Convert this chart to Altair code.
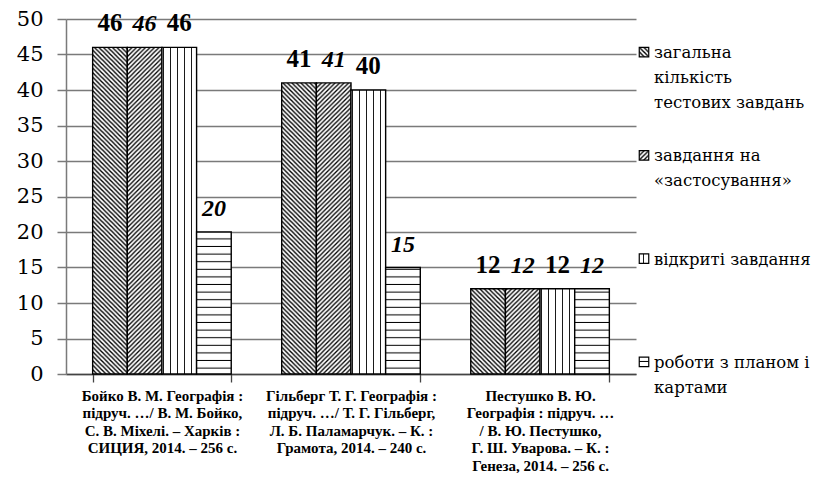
import altair as alt
import pandas as pd
import jinja2

# ---------------- data ----------------
books = [
    "Бойко В. М. Географія :\nпідруч. …/ В. М. Бойко,\nС. В. Міхелі. – Харків :\nСИЦИЯ, 2014. – 256 с.",
    "Гільберг Т. Г. Географія :\nпідруч. …/ Т. Г. Гільберг,\nЛ. Б. Паламарчук. – К. :\nГрамота, 2014. – 240 с.",
    "Пестушко В. Ю.\nГеографія : підруч. …\n/ В. Ю. Пестушко,\nГ. Ш. Уварова. – К. :\nГенеза, 2014. – 256 с.",
]
series = [
    "загальна кількість тестових завдань",
    "завдання на «застосування»",
    "відкриті завдання",
    "роботи з планом і картами",
]
legend_labels = [
    "загальна\nкількість\nтестових завдань",
    "завдання на\n«застосування»",
    "відкриті завдання",
    "роботи з планом і\nкартами",
]
values = {
    series[0]: [46, 41, 12],
    series[1]: [46, 41, 12],
    series[2]: [46, 40, 12],
    series[3]: [20, 15, 12],
}
italic_series = [series[1], series[3]]
patterns = ["url(#hatchA)", "url(#hatchB)", "url(#vlines)", "url(#hlines)"]

rows = []
for s in series:
    for b, v in zip(books, values[s]):
        rows.append({"book": b, "series": s, "value": v,
                     "italic": s in italic_series})
df = pd.DataFrame(rows)
leg_df = pd.DataFrame({"series": series, "label": legend_labels})

SERIF = "Liberation Serif"
SLAB = "DejaVu Serif"
NOVIEW = alt.ViewBackground(stroke="transparent", strokeWidth=0, strokeOpacity=0)

x_enc = alt.X(
    "book:N", sort=books, title=None,
    scale=alt.Scale(paddingInner=0.267, paddingOuter=0.141),
    axis=alt.Axis(
        labelAngle=0, labelExpr="split(datum.label, '\\n')",
        labelFont=SERIF, labelFontSize=15, labelFontWeight="bold",
        labelColor="black", labelLineHeight=17.5, labelBaseline="top",
        labelPadding=6, labelLimit=0, tickBand="extent", tickSize=8,
        tickColor="#444", domainColor="#444", domainWidth=1.3, tickWidth=1.3,
        grid=False,
    ),
)
xoff = alt.XOffset("series:N", sort=series,
                   scale=alt.Scale(domain=series, paddingInner=0, paddingOuter=0))
y_enc = alt.Y(
    "value:Q", title=None,
    scale=alt.Scale(domain=[0, 50], nice=False),
    axis=alt.Axis(
        values=list(range(0, 51, 5)), labelFont=SLAB, labelFontSize=21,
        labelColor="black", labelPadding=14, tickSize=9, tickColor="#7a7a7a",
        tickWidth=1.5, domainColor="#7a7a7a", domainWidth=1.5,
        gridColor="#7a7a7a", gridWidth=1.5, labelFlush=False,
    ),
)

base = alt.Chart(df)
bars = base.mark_bar(stroke="black", strokeWidth=1.4).encode(
    x=x_enc, xOffset=xoff, y=y_enc,
    fill=alt.Fill("series:N", scale=alt.Scale(domain=series, range=patterns),
                  legend=None),
)
txt_up = base.transform_filter("!datum.italic").mark_text(
    font=SERIF, fontSize=25, fontWeight="bold", baseline="alphabetic",
    dy=-16, color="black",
).encode(x=x_enc, xOffset=xoff, y=y_enc, text="value:Q")
txt_it = base.transform_filter("datum.italic").mark_text(
    font=SERIF, fontSize=24, fontWeight="bold", fontStyle="italic",
    baseline="alphabetic", dy=-16, color="black",
).encode(x=x_enc, xOffset=xoff, y=y_enc, text="value:Q")

main = alt.layer(bars, txt_up, txt_it).properties(
    width=570, height=355, view=NOVIEW)

leg_base = alt.Chart(leg_df).encode(
    y=alt.Y("series:N", sort=series, axis=None,
            scale=alt.Scale(padding=0.32)),
)
leg_sym = leg_base.mark_square(size=90, stroke="black", strokeWidth=1.2,
                               opacity=1).encode(
    x=alt.value(7),
    fill=alt.Fill("series:N", scale=alt.Scale(domain=series, range=patterns),
                  legend=None),
)
leg_txt = leg_base.mark_text(
    align="left", baseline="alphabetic", dy=6, font=SLAB, fontSize=16.5,
    lineHeight=25, color="black",
).encode(x=alt.value(17), text=alt.Text("label:N"))
legend = alt.layer(leg_sym, leg_txt).transform_calculate(
    label="split(datum.label, '\\n')"
).properties(width=150, height=376, view=NOVIEW)

chart = alt.hconcat(main, legend, spacing=0).properties(
    padding={"left": 8, "top": 0, "right": 0, "bottom": 0}
).configure_view(strokeWidth=0, stroke="transparent").configure(
    background="white")

TEMPLATE = jinja2.Template("""<!DOCTYPE html>
<html>
<head>
  <meta charset="utf-8">
  <style>
    #{{ output_div }}.vega-embed { width: 100%; display: flex; }
    #{{ output_div }}.vega-embed details,
    #{{ output_div }}.vega-embed details summary { position: relative; }
  </style>
  <script type="text/javascript" src="{{ base_url }}/vega@{{ vega_version }}"></script>
  <script type="text/javascript" src="{{ base_url }}/vega-lite@{{ vegalite_version }}"></script>
  <script type="text/javascript" src="{{ base_url }}/vega-embed@{{ vegaembed_version }}"></script>
</head>
<body>
  <svg width="0" height="0" style="position:absolute;left:0;top:0">
    <defs>
      <pattern id="hatchA" patternUnits="userSpaceOnUse" width="4.5" height="4.5">
        <rect width="4.5" height="4.5" fill="white"/>
        <path d="M-1,-1 L5.5,5.5 M-1,3.5 L1,5.5 M3.5,-1 L5.5,1" stroke="black" stroke-width="1.4"/>
      </pattern>
      <pattern id="hatchB" patternUnits="userSpaceOnUse" width="4.5" height="4.5">
        <rect width="4.5" height="4.5" fill="white"/>
        <path d="M-1,5.5 L5.5,-1 M-1,1 L1,-1 M3.5,5.5 L5.5,3.5" stroke="black" stroke-width="1.3"/>
      </pattern>
      <pattern id="vlines" patternUnits="userSpaceOnUse" width="7" height="7">
        <rect width="7" height="7" fill="white"/>
        <rect x="6.1" y="0" width="1.8" height="7" fill="black"/>
      </pattern>
      <pattern id="hlines" patternUnits="userSpaceOnUse" width="7.6" height="7.6">
        <rect width="7.6" height="7.6" fill="white"/>
        <rect x="0" y="6.6" width="7.6" height="2" fill="black"/>
      </pattern>
    </defs>
  </svg>
  <div id="{{ output_div }}"></div>
  <script>
    (function(vegaEmbed) {
      var spec = {{ spec }};
      var embedOpt = {{ embed_options }};
      vegaEmbed("#{{ output_div }}", spec, embedOpt).catch(function(e){ console.error(e); });
    })(vegaEmbed);
  </script>
</body>
</html>
""")

chart.save("out.html", embed_options={"renderer": "svg", "actions": False},
           template=TEMPLATE)
